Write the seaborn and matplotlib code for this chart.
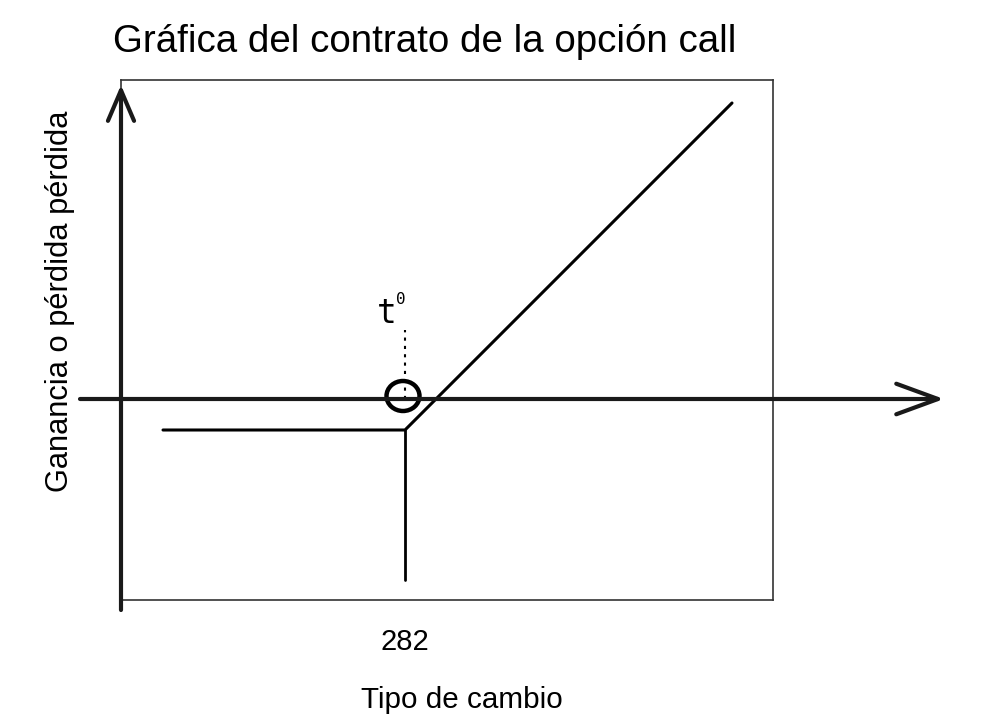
import matplotlib
matplotlib.use("Agg")
import matplotlib.pyplot as plt
import seaborn as sns
import pandas as pd
from matplotlib.patches import Ellipse, FancyArrowPatch

# datos del contrato (prima descontada del pago)
precios = [257.8, 282.0, 314.7]
pago = [-3.1, -3.1, 29.6]
strike = 282
strike_linea = [-3.1, -18.1]   # linea vertical bajo el strike
guia = [0.0, 6.9]              # guia punteada hacia t0
xticks = [282]
xtick_labels = ["282"]

sns.set_theme(style="white")
plt.rcParams["font.family"] = ["Liberation Sans", "DejaVu Sans"]
plt.rcParams["text.color"] = "black"
plt.rcParams["axes.labelcolor"] = "black"
plt.rcParams["xtick.color"] = "black"

fig = plt.figure(figsize=(9.94, 7.26), dpi=100)
ax = fig.add_axes([121 / 994, 126 / 726, 652 / 994, 520 / 726])

df = pd.DataFrame({"tipo": precios, "pago": pago})
sns.lineplot(data=df, x="tipo", y="pago", ax=ax, color="black", lw=2.2)

ax.set_xlim(253.6, 318.8)
ax.set_ylim(-20.1, 31.9)

# strike y guia
ax.plot([strike, strike], strike_linea, color="black", lw=2)
ax.plot([strike, strike], guia, color="black", lw=1.5, ls=(0, (1.5, 2.5)))
ax.add_patch(Ellipse((281.8, 0.3), 3.3, 3.0, fill=False, ec="black", lw=3.2, zorder=5))
ax.text(280.2, 7.6, "t", fontsize=23.5, family="DejaVu Sans Mono", ha="center", va="baseline")
ax.text(281.6, 9.5, "0", fontsize=11.5, family="DejaVu Sans Mono", ha="center", va="baseline")

# ejes con flecha
ejes = [((249.5, 0), (335.9, 0), 1.5, 0.55), ((253.6, -21.1), (253.6, 31.4), 1.1, 0.47)]
for ini, fin, hl, hw in ejes:
    ax.add_patch(FancyArrowPatch(ini, fin, arrowstyle=f"->,head_length={hl},head_width={hw}",
                                 mutation_scale=20, lw=3, color="#1a1a1a", clip_on=False,
                                 shrinkA=0, shrinkB=0, zorder=6))

ax.set_xticks(xticks)
ax.set_xticklabels(xtick_labels, fontsize=21)
ax.set_yticks([])
ax.tick_params(axis="x", length=0, pad=20)
for s in ax.spines.values():
    s.set_color("#333333")
    s.set_linewidth(1.2)

ax.set_xlabel("Tipo de cambio", fontsize=21.3)
ax.set_ylabel("Ganancia o pérdida pérdida", fontsize=22.2)
ax.xaxis.set_label_coords(0.523, -0.165)
ax.yaxis.set_label_coords(-0.071, 0.575)

fig.text(113 / 994, 1 - 52 / 726, "Gráfica del contrato de la opción call",
         fontsize=27.7, ha="left", va="baseline")

fig.savefig("out.png", dpi=100)
